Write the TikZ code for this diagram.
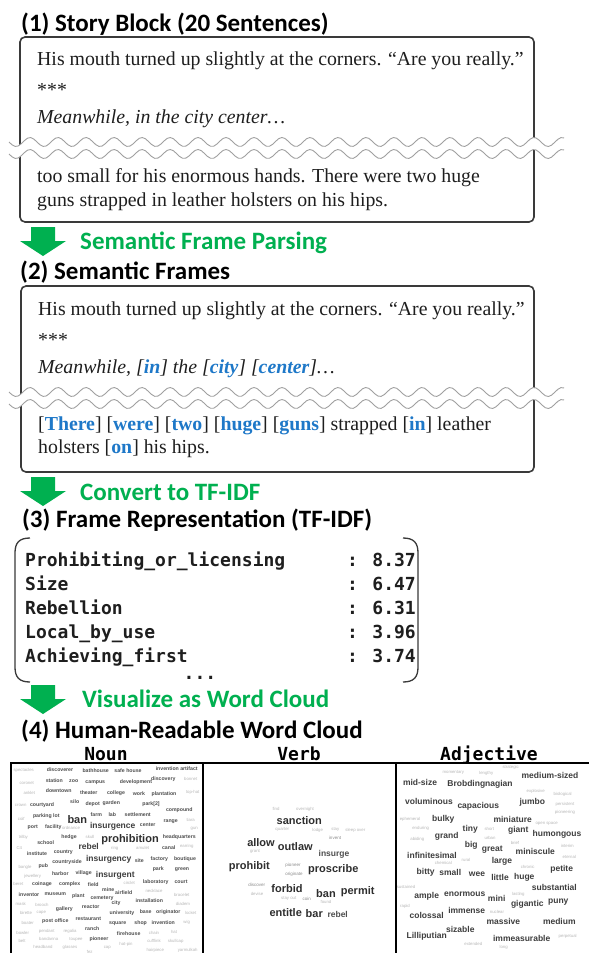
\documentclass[tikz,border=0pt]{standalone}
\usepackage{fontspec}
\newfontfamily\titlefont{Carlito}
\newfontfamily\serifx{Liberation Serif}
\newfontfamily\monox{DejaVu Sans Mono}
\newfontfamily\cloudf{Liberation Sans}
\definecolor{grn}{HTML}{00B050}
\definecolor{fb}{HTML}{1E78C8}
\definecolor{txt}{HTML}{1E1E1E}
\definecolor{boxc}{HTML}{3A3A3A}
\definecolor{wavec}{HTML}{A0A0A0}
\definecolor{ca}{HTML}{2E2E2E}
\definecolor{cb}{HTML}{3E3E3E}
\definecolor{cc}{HTML}{4E4E4E}
\definecolor{cd}{HTML}{B8B8B8}
\definecolor{ce}{HTML}{8C8C8C}
\tikzset{
 ttl/.style={anchor=base west, inner sep=0pt, font=\titlefont\bfseries\fontsize{25}{30}\selectfont},
 glab/.style={ttl, text=grn},
 stxt/.style={anchor=base west, inner sep=0pt, font=\serifx\fontsize{19.8}{24}\selectfont, text=txt},
 mtxt/.style={anchor=base west, inner sep=0pt, font=\monox\bfseries\fontsize{18}{22}\selectfont, text=txt},
 hdr/.style={anchor=base, inner sep=0pt, font=\monox\bfseries\fontsize{18}{22}\selectfont},
 boxl/.style={draw=boxc, line width=1.6pt, rounded corners=5pt},
 brk/.style={draw=boxc, line width=1.3pt},
 wavel/.style={draw=wavec, line width=0.9pt},
 panel/.style={draw=black, line width=1.5pt},
 garrow/.style={fill=grn},
 cwbig/.style={inner sep=0pt, font=\cloudf\bfseries\fontsize{11}{11}\selectfont, text=ca},
 cwmid/.style={inner sep=0pt, font=\cloudf\bfseries\fontsize{8.5}{8.5}\selectfont, text=cb},
 cwsm/.style={inner sep=0pt, font=\cloudf\bfseries\fontsize{5.2}{5.2}\selectfont, text=cc},
 cwvm/.style={inner sep=0pt, font=\cloudf\fontsize{4.5}{4.5}\selectfont, text=ce},
 cwlt/.style={inner sep=0pt, font=\cloudf\fontsize{4.3}{4.3}\selectfont, text=cd},
}
\newcommand\wavebreak[2]{%
 \fill[white] plot[domain=9:564,samples=180] (\x,{#1+4.5*sin(12.857*(\x-9))}) -- plot[domain=564:9,samples=180] (\x,{#2+4.5*sin(12.857*(\x-9))}) -- cycle;
 \draw[wavel] plot[domain=9:564,samples=180] (\x,{#1+4.5*sin(12.857*(\x-9))});
 \draw[wavel] plot[domain=9:564,samples=180] (\x,{#2+4.5*sin(12.857*(\x-9))});
}
\newcommand\greenarrow[1]{%
 \fill[garrow] (31,#1) -- (55,#1) -- (55,#1+14) -- (66,#1+14) -- (43,#1+29) -- (20,#1+14) -- (31,#1+14) -- cycle;
}
\newcommand\fw[1]{{\color{fb}\bfseries #1}}
\begin{document}
\begin{tikzpicture}[x=1pt,y=-1pt]
\useasboundingbox (0,0) rectangle (589,953);
\fill[white] (0,0) rectangle (589,953);

% ---------- (1) Story block
\node[ttl] (t1) at (21,31) {(1) Story Block (20 Sentences)};
\draw[boxl] (20,37) rectangle (534,222);
\node[stxt] (s1a) at (37,65) {His mouth turned up slightly at the corners. “Are you really.”};
\node[stxt] (s1b) at (37,96) {***};
\node[stxt] (s1c) at (37,123) {\itshape Meanwhile, in the city center…};
\wavebreak{142}{154}
\node[stxt] (s1d) at (37,182) {too small for his enormous hands. There were two huge};
\node[stxt] (s1e) at (37,206) {guns strapped in leather holsters on his hips.};

\greenarrow{227}
\node[glab] (g1) at (80,249) {Semantic Frame Parsing};

% ---------- (2) Semantic frames
\node[ttl] (t2) at (20,279) {(2) Semantic Frames};
\draw[boxl] (21,286) rectangle (534,472);
\node[stxt] (s2a) at (38,315) {His mouth turned up slightly at the corners. “Are you really.”};
\node[stxt] (s2b) at (38,346) {***};
\node[stxt] (s2c) at (38,373) {\itshape Meanwhile, [\fw{in}] the [\fw{city}] [\fw{center}]…};
\wavebreak{392}{404}
\node[stxt] (s2d) at (38,430) {[\fw{There}] [\fw{were}] [\fw{two}] [\fw{huge}] [\fw{guns}] strapped [\fw{in}] leather};
\node[stxt] (s2e) at (38,453) {holsters [\fw{on}] his hips.};

\greenarrow{477}
\node[glab] (g2) at (80,500) {Convert to TF-IDF};

% ---------- (3) Frame representation
\node[ttl] (t3) at (22,527) {(3) Frame Representation (TF-IDF)};
\draw[brk] (30,538) .. controls (19,538) and (15,543) .. (15,553) -- (15,667) .. controls (15,677) and (19,682) .. (30,682);
\draw[brk] (403,538) .. controls (414,538) and (418,543) .. (418,553) -- (418,667) .. controls (418,677) and (414,682) .. (403,682);
\node[mtxt] (f1) at (25,566) {Prohibiting\_or\_licensing};
\node[mtxt] (f2) at (25,590) {Size};
\node[mtxt] (f3) at (25,614) {Rebellion};
\node[mtxt] (f4) at (25,638) {Local\_by\_use};
\node[mtxt] (f5) at (25,662) {Achieving\_first};
\node[mtxt] (v1) at (347,566) {: 8.37};
\node[mtxt] (v2) at (347,590) {: 6.47};
\node[mtxt] (v3) at (347,614) {: 6.31};
\node[mtxt] (v4) at (347,638) {: 3.96};
\node[mtxt] (v5) at (347,662) {: 3.74};
\node[mtxt, anchor=base] (dots) at (200,679) {...};

\greenarrow{685}
\node[glab] (g3) at (82,707) {Visualize as Word Cloud};

% ---------- (4) Word cloud
\node[ttl] (t4) at (21,738) {(4) Human-Readable Word Cloud};
\node[hdr] (hn) at (106,760) {Noun};
\node[hdr] (hv) at (299,760) {Verb};
\node[hdr] (ha) at (489,760) {Adjective};
\draw[panel] (11,953) -- (11,763) -- (589,763);
\draw[panel] (203,763) -- (203,953);
\draw[panel] (396,763) -- (396,953);

% Noun cloud
\foreach \px/\py/\w [count=\i] in {130/839.3/prohibition, 77.3/819.3/ban}
 \node[cwbig] (nb\i) at (\px,\py) {\w};
\foreach \px/\py/\w [count=\i] in {112.7/826.3/insurgence, 88.7/846.7/rebel, 108.7/859.3/insurgency, 115.3/875/insurgent}
 \node[cwmid] (nm\i) at (\px,\py) {\w};
\foreach \px/\py/\w [count=\i] in {60/770/discoverer, 95.7/771/bathhouse, 128/771/safe house, 176.7/768.3/invention artifact,
 54.3/780.7/station, 73.7/780.7/zoo, 95.3/782.7/campus, 136/782.3/development, 163.3/779/discovery,
 58.7/791/downtown, 88.7/792.7/theater, 116/793.3/college, 139/794/work, 164/794/plantation,
 42/805.3/courtyard, 74.7/802/silo, 92.7/804/depot, 111.3/803.3/garden, 151/804.3/park[2], 179.3/810.3/compound,
 46.3/816/parking lot, 96.3/814.7/farm, 112.3/814.3/lab, 137.7/815/settlement, 170.7/822/range,
 32.7/827.7/port, 53.3/826.7/facility, 147.7/825.3/center, 45.7/842.7/school, 69/837.3/hedge, 179.3/836.7/headquarters,
 168.7/848/canal, 37/853.3/institute, 63.3/852/country, 67/862.3/countryside, 139.3/861/site, 159.3/859/factory, 185/858.7/boutique,
 43.3/866.3/pub, 158.3/869.3/park, 182/869.3/green, 60.3/873.3/harbor, 83.7/873.3/village,
 42/884.3/coinage, 69.7/884/complex, 93.3/885/field, 155.7/881.7/laboratory, 181/882.3/court,
 108.3/889.3/mine, 29/894.3/inventor, 55.3/894.3/museum, 78.3/896.3/plant, 102/898.7/cemetery, 123.7/893/airfield,
 64.3/908.7/gallery, 90.7/906.7/reactor, 116/903/city, 149.3/901/installation,
 122/913.3/university, 145.7/912/base, 168.3/912.3/originator,
 55.3/921/post office, 88.3/918.7/restaurant, 117.7/923.7/square, 140.7/923/shop, 163.3/922.3/invention,
 92.3/928.7/ranch, 128.7/934/firehouse, 99/939.3/pioneer}
 \node[cwsm] (ns\i) at (\px,\py) {\w};
\foreach \px/\py/\w [count=\i] in {23.7/770/spectacles, 26.7/783.3/coronet, 190.7/779/bonnet, 29.3/792.7/anklet, 192.7/792.3/top-hat,
 20.7/805.3/crown, 21.3/818.7/coif, 190.7/820.3/tiara, 71/828.3/ordnance, 194.3/828.3/gun,
 23.3/837.7/trilby, 90/836.7/skull, 19.3/848.3/C4, 114.7/848.7/ring, 142.7/848.3/amulet, 186.7/846.7/earring,
 25/867.3/bangle, 32.7/876/jewellery, 18.3/884.3/beret, 129.3/883.3/circlet, 154/891.3/necklace, 181.7/895.3/bracelet,
 20.7/904/mask, 42/904.7/brooch, 183/903.7/diadem, 26/913/birette, 41.3/913/cape, 190.7/913.3/locket,
 27.7/922.7/boater, 186.7/922.7/wig, 22.7/932.7/bowler, 46.7/931/pendant, 70/931/regalia, 154/932.7/chain, 174/931.7/hat,
 22/941/belt, 48.7/939.3/bandanna, 76/939.3/toupee, 126/944/hat-pin, 154/941.3/cufflink, 175.7/941.3/skullcap,
 43/947.3/headband, 70/947.7/glasses, 107.3/948/cap, 155.3/950.7/hairpiece, 187.7/950/yarmulkah, 89.7/951.7/fez}
 \node[cwlt] (nl\i) at (\px,\py) {\w};

% Verb cloud
\foreach \px/\py/\w [count=\i] in {299.3/821/sanction, 261/843/allow, 295.3/846.7/outlaw, 249.3/867/prohibit, 333.3/869.3/proscribe,
 287/888.7/forbid, 326/893.7/ban, 357.7/892/permit, 285.7/912.3/entitle, 314.3/913.3/bar}
 \node[cwbig] (vb\i) at (\px,\py) {\w};
\foreach \px/\py/\w [count=\i] in {334/854.3/insurge, 337.7/914/rebel}
 \node[cwmid, text=cc] (vm\i) at (\px,\py) {\w};
\foreach \px/\py/\w [count=\i] in {335/838/invent, 293/865/pioneer, 294/874.7/originate, 256.7/885.3/discover, 306.7/899/coin}
 \node[cwvm] (vs\i) at (\px,\py) {\w};
\foreach \px/\py/\w [count=\i] in {276/809.3/find, 305/809/overnight, 282.3/830/quarter, 317.7/830/lodge, 335.3/829.3/stay,
 355.3/830.3/sleep over, 255/851.7/grant, 257/893.7/devise, 288.7/898.3/stay out, 326/902.3/found}
 \node[cwlt] (vl\i) at (\px,\py) {\w};

% Adjective cloud
\foreach \px/\py/\w [count=\i] in {420/782.3/mid-size, 480/784.7/Brobdingnagian, 550/775.7/medium-sized,
 429/801.7/voluminous, 478.3/806.7/capacious, 532.3/802.3/jumbo, 443.3/819.7/bulky, 512.7/819/miniature,
 470.3/829.3/tiny, 518.3/830.3/giant, 557/834.3/humongous, 446.7/836.7/grand, 471.3/845.7/big, 492.3/849.3/great,
 535.3/851.3/miniscule, 432/855/infinitesimal, 502/861.3/large, 561.7/869.7/petite, 425.7/872.3/bitty, 450.3/872.7/small,
 477/874.3/wee, 500/877.7/little, 524.3/877/huge, 554.3/887.7/substantial, 426.7/896/ample, 464.7/894.3/enormous,
 496.7/898/mini, 527.3/904.3/gigantic, 558.3/902.3/puny, 466.7/910.3/immense, 426.7/915.3/colossal, 503.3/921.3/massive,
 559.3/921.3/medium, 460.3/929.3/sizable, 426.7/936/Lilliputian, 521.7/938.7/immeasurable}
 \node[cwmid] (am\i) at (\px,\py) {\w};
\foreach \px/\py/\w [count=\i] in {510.7/767.7/strategic, 453.3/772.3/momentary, 486.3/773.3/lengthy, 535.7/791.7/explosive,
 562.7/794.3/biological, 565/804/persistent, 565/812.7/pioneering, 410/819.3/ephemeral, 546.7/823.3/open space,
 420.7/828.3/enduring, 489.3/829.3/short, 417.3/839/abiding, 490/838/urban, 515/843/brief, 567.3/846/interim,
 569.3/857/eternal, 443.3/863/chemical, 466/860.3/rural, 527.7/866.7/chronic, 406/886.7/sustained, 518.3/894.7/lasting,
 405/906.3/rapid, 497/911.7/nuclear, 567.7/936.3/perpetual, 473.3/944/extended, 503.7/947.7/long}
 \node[cwlt] (al\i) at (\px,\py) {\w};
\end{tikzpicture}
\end{document}
